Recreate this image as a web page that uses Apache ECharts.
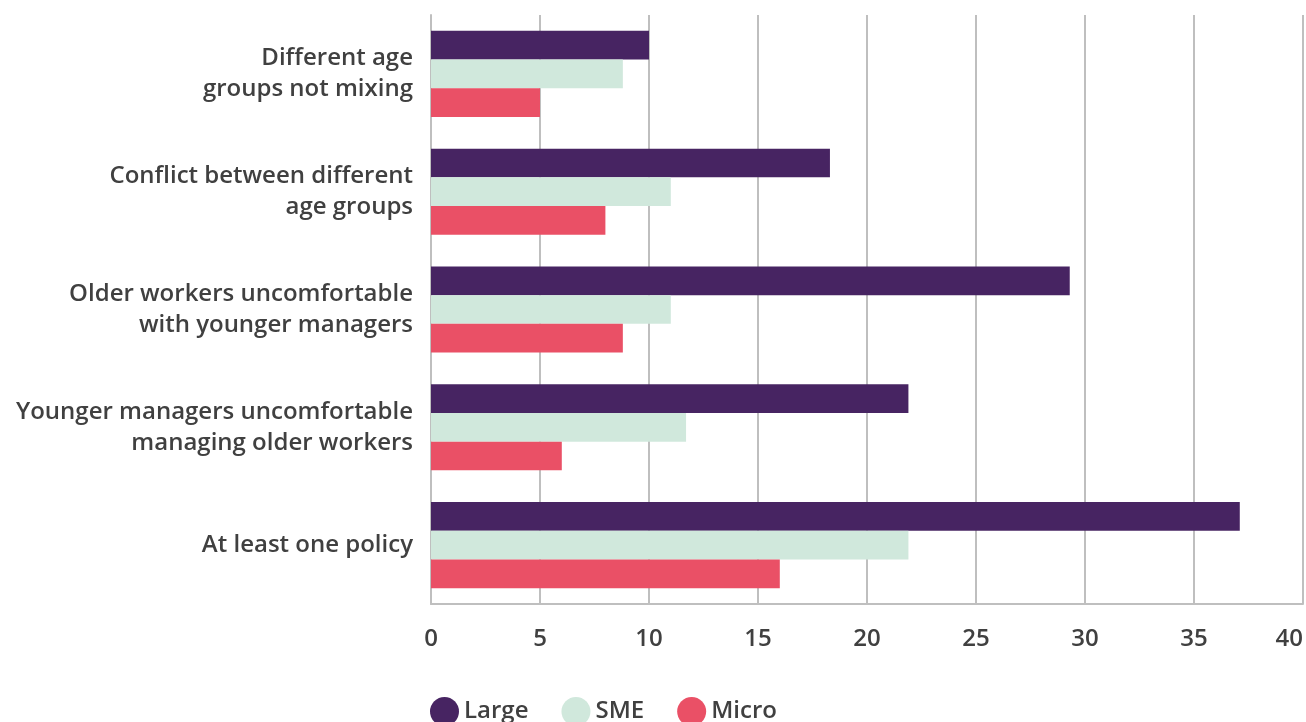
<!DOCTYPE html>
<html><head><meta charset="utf-8">
<script src="https://cdn.jsdelivr.net/npm/echarts@6/dist/echarts.min.js"></script>
<style>html,body{margin:0;padding:0;background:#fff}#c{width:1306px;height:722px}</style>
</head><body><div id="c"></div>
<script>
const categories = [
  "Different age\ngroups not mixing",
  "Conflict between different\nage groups",
  "Older workers uncomfortable\nwith younger managers",
  "Younger managers uncomfortable\nmanaging older workers",
  "At least one policy"
];
const large = [10.0, 18.3, 29.3, 21.9, 37.1];
const sme = [8.8, 11.0, 11.0, 11.7, 21.9];
const micro = [5.0, 8.0, 8.8, 6.0, 16.0];
const xTicks = { min: 0, max: 40, interval: 5 };

const font = "'Open Sans', Lato, sans-serif";
const chart = echarts.init(document.getElementById('c'));
chart.setOption({
  animation: false,
  textStyle: { fontFamily: font },
  grid: { left: 431, right: 3, top: 15, bottom: 118, containLabel: false, outerBoundsMode: 'none' },
  legend: {
    bottom: -9, left: 425,
    icon: 'circle', itemWidth: 29, itemHeight: 29, itemGap: 33,
    textStyle: { fontSize: 24, fontWeight: 600, color: '#404040', fontFamily: font },
    data: ['Large', 'SME', 'Micro']
  },
  xAxis: {
    type: 'value', min: xTicks.min, max: xTicks.max, interval: xTicks.interval,
    axisLine: { show: true, lineStyle: { color: '#bfbfbf', width: 2 } },
    axisTick: { show: false },
    splitLine: { show: true, lineStyle: { color: '#bfbfbf', width: 2 } },
    axisLabel: { fontSize: 24, fontWeight: 600, color: '#404040', margin: 23, fontFamily: font, alignMaxLabel: 'right' }
  },
  yAxis: {
    type: 'category', inverse: true, data: categories,
    axisLine: { show: true, lineStyle: { color: '#bfbfbf', width: 2 } },
    axisTick: { show: false },
    axisLabel: { fontSize: 24, fontWeight: 600, color: '#404040', margin: 18, lineHeight: 31, align: 'right', fontFamily: font }
  },
  series: [
    { name: 'Large', type: 'bar', data: large, itemStyle: { color: '#472462' }, barWidth: 28.7, barGap: '0%' },
    { name: 'SME', type: 'bar', data: sme, itemStyle: { color: '#d0e8dc' }, barWidth: 28.7, barGap: '0%' },
    { name: 'Micro', type: 'bar', data: micro, itemStyle: { color: '#ea5066' }, barWidth: 28.7, barGap: '0%' }
  ]
});
</script></body></html>
